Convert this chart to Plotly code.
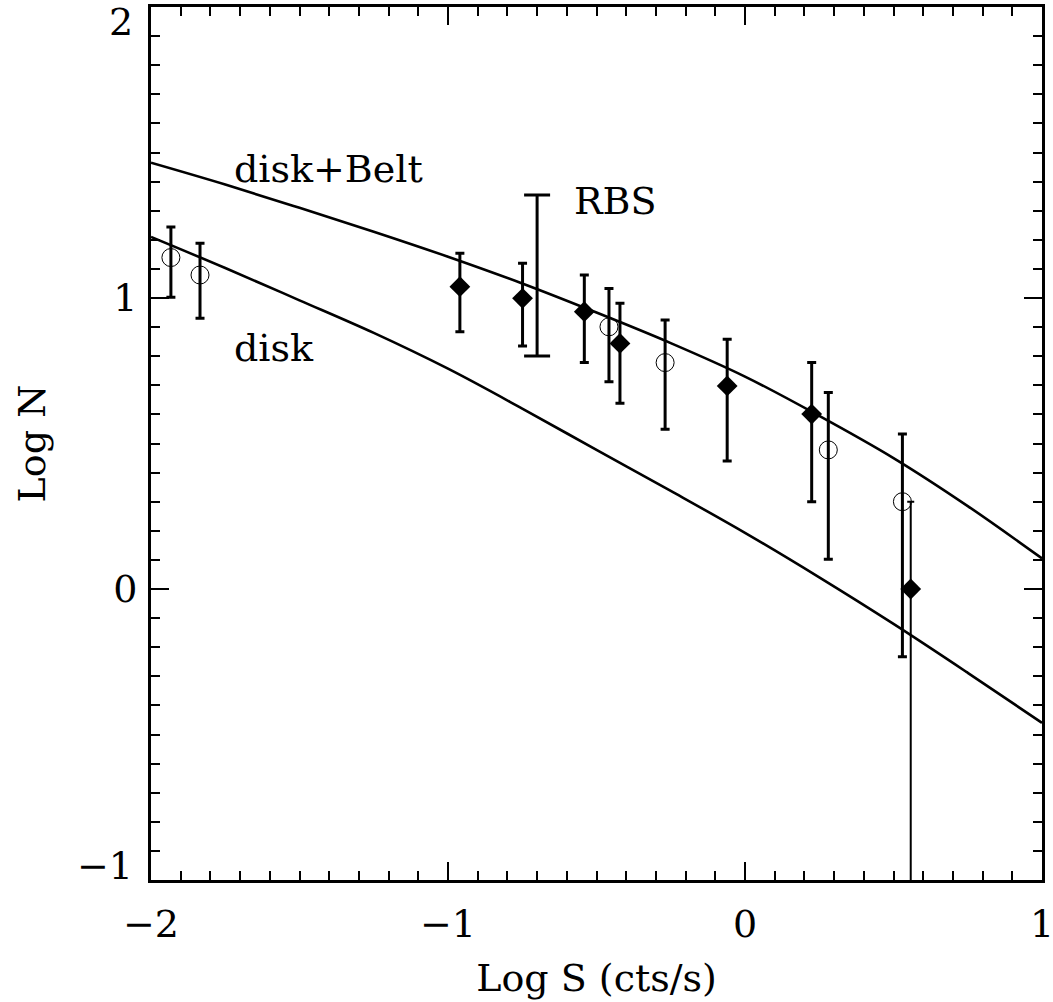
import plotly.graph_objects as go

# Model curves: log N(>S) versus log S
curve_x = [-2.0, -1.75, -1.5, -1.25, -1.0, -0.75, -0.5, -0.25, 0.0, 0.25, 0.5, 0.75, 1.0]
disk_belt_y = [1.465, 1.39, 1.31, 1.228, 1.142, 1.05, 0.950, 0.845, 0.730, 0.595, 0.450, 0.285, 0.105]
disk_y = [1.21, 1.103, 0.992, 0.880, 0.757, 0.62, 0.478, 0.337, 0.193, 0.04, -0.12, -0.288, -0.46]

# Open circles with error bars
circ_x = [-1.933, -1.835, -0.458, -0.269, 0.2805, 0.530]
circ_y = [1.139, 1.079, 0.901, 0.778, 0.478, 0.300]
circ_hi = [1.244, 1.188, 1.033, 0.924, 0.675, 0.533]
circ_lo = [1.003, 0.930, 0.712, 0.549, 0.102, -0.233]

# Filled diamonds with error bars
diam_x = [-0.960, -0.749, -0.541, -0.421, -0.060, 0.2245]
diam_y = [1.039, 0.999, 0.953, 0.844, 0.698, 0.601]
diam_hi = [1.154, 1.119, 1.079, 0.982, 0.858, 0.778]
diam_lo = [0.884, 0.835, 0.778, 0.638, 0.440, 0.300]

# Faintest diamond: lower limit runs off the bottom of the plot
last_x = [0.558]
last_y = [0.0]
last_hi = [0.300]
last_lo = [-2.5]

# RBS range
rbs_x = [-0.70]
rbs_lo = [0.801]
rbs_hi = [1.354]

# Axis tick labels
x_ticks = [-2, -1, 0, 1]
x_ticktext = ["\u22122", "\u22121", "0", "1"]
y_ticks = [0, 1]
y_ticktext = ["0", "1"]
y_end_ticks = [2, -1]
y_end_ticktext = ["2", "\u22121"]

FONT = "DejaVu Serif"
FSIZE = 38

fig = go.Figure()

for ys in (disk_belt_y, disk_y):
    fig.add_trace(go.Scatter(x=curve_x, y=ys, mode="lines",
                             line=dict(color="black", width=2.6, shape="spline", smoothing=1.0),
                             showlegend=False, hoverinfo="skip"))


def err(y, hi, lo):
    return ([h - v for h, v in zip(hi, y)], [v - l for v, l in zip(y, lo)])


# RBS bar (no marker)
rbs_mid = [(h + l) / 2 for h, l in zip(rbs_hi, rbs_lo)]
up, dn = err(rbs_mid, rbs_hi, rbs_lo)
fig.add_trace(go.Scatter(x=rbs_x, y=rbs_mid, mode="markers",
                         marker=dict(size=1, color="rgba(0,0,0,0)"),
                         error_y=dict(type="data", array=up, arrayminus=dn, symmetric=False,
                                      color="black", thickness=3, width=13),
                         showlegend=False))

up, dn = err(last_y, last_hi, last_lo)
fig.add_trace(go.Scatter(x=last_x, y=last_y, mode="markers",
                         marker=dict(symbol="diamond", size=16, color="black"),
                         error_y=dict(type="data", array=up, arrayminus=dn, symmetric=False,
                                      color="black", thickness=2, width=3.5),
                         showlegend=False))

up, dn = err(diam_y, diam_hi, diam_lo)
fig.add_trace(go.Scatter(x=diam_x, y=diam_y, mode="markers",
                         marker=dict(symbol="diamond", size=16, color="black"),
                         error_y=dict(type="data", array=up, arrayminus=dn, symmetric=False,
                                      color="black", thickness=3, width=4.5),
                         showlegend=False))

up, dn = err(circ_y, circ_hi, circ_lo)
fig.add_trace(go.Scatter(x=circ_x, y=circ_y, mode="markers",
                         marker=dict(symbol="circle-open", size=18, color="black",
                                     line=dict(width=1, color="black")),
                         error_y=dict(type="data", array=up, arrayminus=dn, symmetric=False,
                                      color="black", thickness=3, width=4.5),
                         showlegend=False))

for txt, x, y in [("disk+Belt", -1.727, 1.443), ("disk", -1.727, 0.828), ("RBS", -0.582, 1.333)]:
    fig.add_annotation(x=x, y=y, text=txt, showarrow=False, xanchor="left", yanchor="middle",
                       font=dict(family=FONT, size=FSIZE, color="black"))

# End labels of the y axis sit just inside the frame
for val, txt, shift in zip(y_end_ticks, y_end_ticktext, [-15, 14]):
    fig.add_annotation(xref="paper", x=0, y=val, text=txt, showarrow=False,
                       xanchor="right", yanchor="middle", xshift=-16, yshift=shift,
                       font=dict(family=FONT, size=FSIZE, color="black"))

axis_common = dict(
    showgrid=False, zeroline=False, showline=True, linecolor="black", linewidth=3,
    mirror="ticks", ticks="inside", ticklen=18, tickwidth=2, tickcolor="black",
    tickfont=dict(family=FONT, size=FSIZE, color="black"),
    ticklabeloverflow="allow", automargin=False,
    minor=dict(ticks="inside", ticklen=9, tickwidth=2, tickcolor="black", dtick=0.1),
)

fig.update_xaxes(range=[-2, 1], tickvals=x_ticks, ticktext=x_ticktext,
                 title=dict(text="Log S (cts/s)", font=dict(family=FONT, size=FSIZE, color="black"),
                            standoff=20),
                 ticklabelstandoff=8, **axis_common)
fig.update_yaxes(range=[-1, 2], tickvals=y_ticks, ticktext=y_ticktext,
                 title=dict(text="Log N", font=dict(family=FONT, size=FSIZE, color="black"),
                            standoff=56),
                 ticklabelstandoff=3, **axis_common)

fig.update_layout(width=1053, height=1002, margin=dict(l=151, r=11, t=7, b=122),
                  plot_bgcolor="white", paper_bgcolor="white")

fig.write_html("out.html")
